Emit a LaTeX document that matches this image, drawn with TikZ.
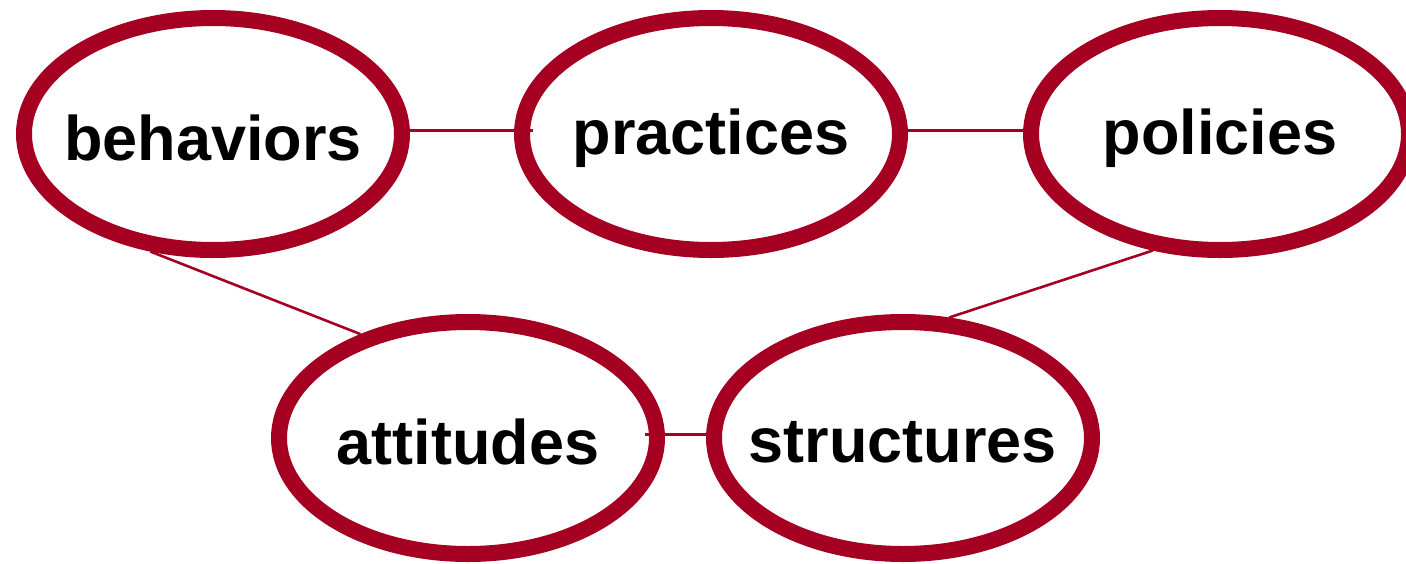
\documentclass[tikz,border=0pt]{standalone}
\usepackage{fontspec}
\setmainfont{Liberation Sans}
\usetikzlibrary{shapes.geometric}
\definecolor{ringred}{HTML}{A50021}
\begin{document}
\begin{tikzpicture}[x=1pt,y=-1pt,
  ring/.style={ellipse, draw=ringred, line width=16pt, fill=white,
    minimum width=378pt, minimum height=232pt, inner sep=0pt},
  textlab/.style={font=\fontsize{63}{70}\selectfont\bfseries, inner sep=0pt, yshift=-4pt},
  link/.style={draw=ringred, line width=3pt}]
\useasboundingbox (0,0) rectangle (1406,563);
\clip (0,0) rectangle (1406,563);
\node[ring, label={[textlab]center:behaviors}] (beh) at (213,134) {};
\node[ring, label={[textlab]center:practices}] (prac) at (711,134) {};
\node[ring, label={[textlab]center:policies}] (pol) at (1220,134) {};
\node[ring, label={[textlab]center:attitudes}] (att) at (468,438) {};
\node[ring, label={[textlab]center:structures}] (str) at (903,438) {};
\draw[link] ([yshift=4pt]beh.east) -- ([xshift=19pt,yshift=4pt]prac.west);
\draw[link] ([yshift=4pt]prac.east) -- ([yshift=4pt]pol.west);
\draw[link] ([xshift=-20pt,yshift=4pt]att.east) -- ([yshift=4pt]str.west);
\draw[link,line width=2.6pt] (beh.242) -- (att.136);
\draw[link,line width=2.6pt] (pol.240) -- (str.69);
\end{tikzpicture}
\end{document}
